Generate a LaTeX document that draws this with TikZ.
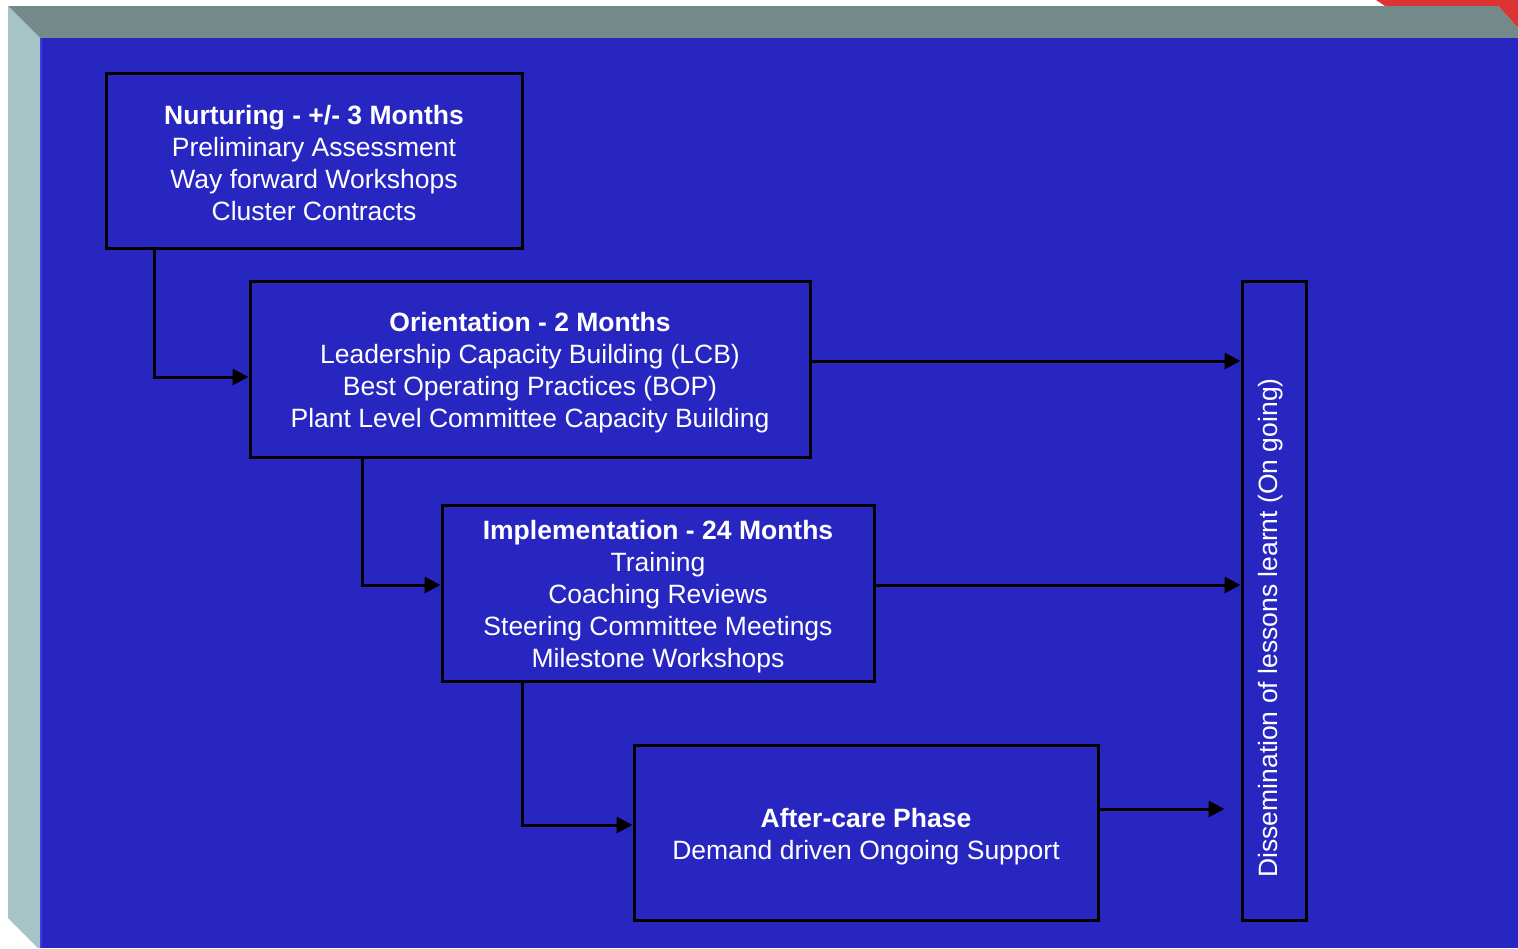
\documentclass[tikz,border=0pt]{standalone}
\usepackage{fontspec}
\setmainfont{Liberation Sans}
\usetikzlibrary{arrows.meta,calc}
\definecolor{bgblue}{RGB}{40,38,192}
\definecolor{topgray}{RGB}{116,138,138}
\definecolor{leftgray}{RGB}{166,196,198}
\definecolor{cornerred}{RGB}{220,52,52}
\definecolor{hiblue}{RGB}{60,60,230}
\tikzset{
  phase/.style={draw=black, line width=3pt, fill=bgblue, inner sep=0pt},
  phasetext/.style={text=white, inner sep=0pt, align=center, font=\fontsize{26.5}{32}\selectfont},
  conn/.style={draw=black, line width=3pt, -{Triangle[length=16pt,width=16pt]}}
}
\begin{document}
\begin{tikzpicture}[x=1pt,y=-1pt]
\useasboundingbox (0,0) rectangle (1518,948);
\fill[white] (0,0) rectangle (1518,948);
% frame
\fill[cornerred] (1376,0) -- (1518,0) -- (1518,28) -- (1498,6) -- (1385,6) -- cycle;
\fill[topgray] (8,6) -- (1498,6) -- (1518,28) -- (1518,38) -- (40,38) -- cycle;
\fill[leftgray] (8,6) -- (40,38) -- (40,948) -- (38,948) -- (8,918) -- cycle;
\fill[bgblue] (40,38) rectangle (1518,948);
\draw[hiblue, line width=2pt] (41,38) -- (41,948);
% phase boxes
\node[phase, minimum width=416, minimum height=175] (n1) at (314,160.5) {};
\node[phasetext] (t1) at ([yshift=-3pt]n1.center)
  {\textbf{Nurturing - +/- 3 Months}\\Preliminary Assessment\\Way forward Workshops\\Cluster Contracts};
\node[phase, minimum width=560, minimum height=176] (n2) at (530,369) {};
\node[phasetext] (t2) at ([yshift=-4pt]n2.center)
  {\textbf{Orientation - 2 Months}\\Leadership Capacity Building (LCB)\\Best Operating Practices (BOP)\\Plant Level Committee Capacity Building};
\node[phase, minimum width=432, minimum height=176] (n3) at (658,593) {};
\node[phasetext] (t3) at ([yshift=-4pt]n3.center)
  {\textbf{Implementation - 24 Months}\\Training\\Coaching Reviews\\Steering Committee Meetings\\Milestone Workshops};
\node[phase, minimum width=464, minimum height=175] (n4) at (866,832.5) {};
\node[phasetext] (t4) at ([yshift=-4pt]n4.center)
  {\textbf{After-care Phase}\\Demand driven Ongoing Support};
\node[phase, minimum width=64, minimum height=639] (n5) at (1274,600.5) {};
\node[phasetext, rotate=90] (t5) at (1271,628)
  {Dissemination of lessons learnt (On going)};
% connectors
\draw[conn] ([xshift=50pt]n1.south west) |- ([yshift=-8pt]n2.west);
\draw[conn] ([xshift=114pt]n2.south west) |- ([yshift=8pt]n3.west);
\draw[conn] ([xshift=82pt]n3.south west) |- ([yshift=7.5pt]n4.west);
\draw[conn] ([yshift=8pt]n2.east) -- ([yshift=8pt]n2.east -| n5.west);
\draw[conn] ([yshift=8pt]n3.east) -- ([yshift=8pt]n3.east -| n5.west);
\draw[conn] ([yshift=23.5pt]n4.east) -- ([yshift=23.5pt,xshift=-16pt]n4.east -| n5.west);
\end{tikzpicture}
\end{document}
